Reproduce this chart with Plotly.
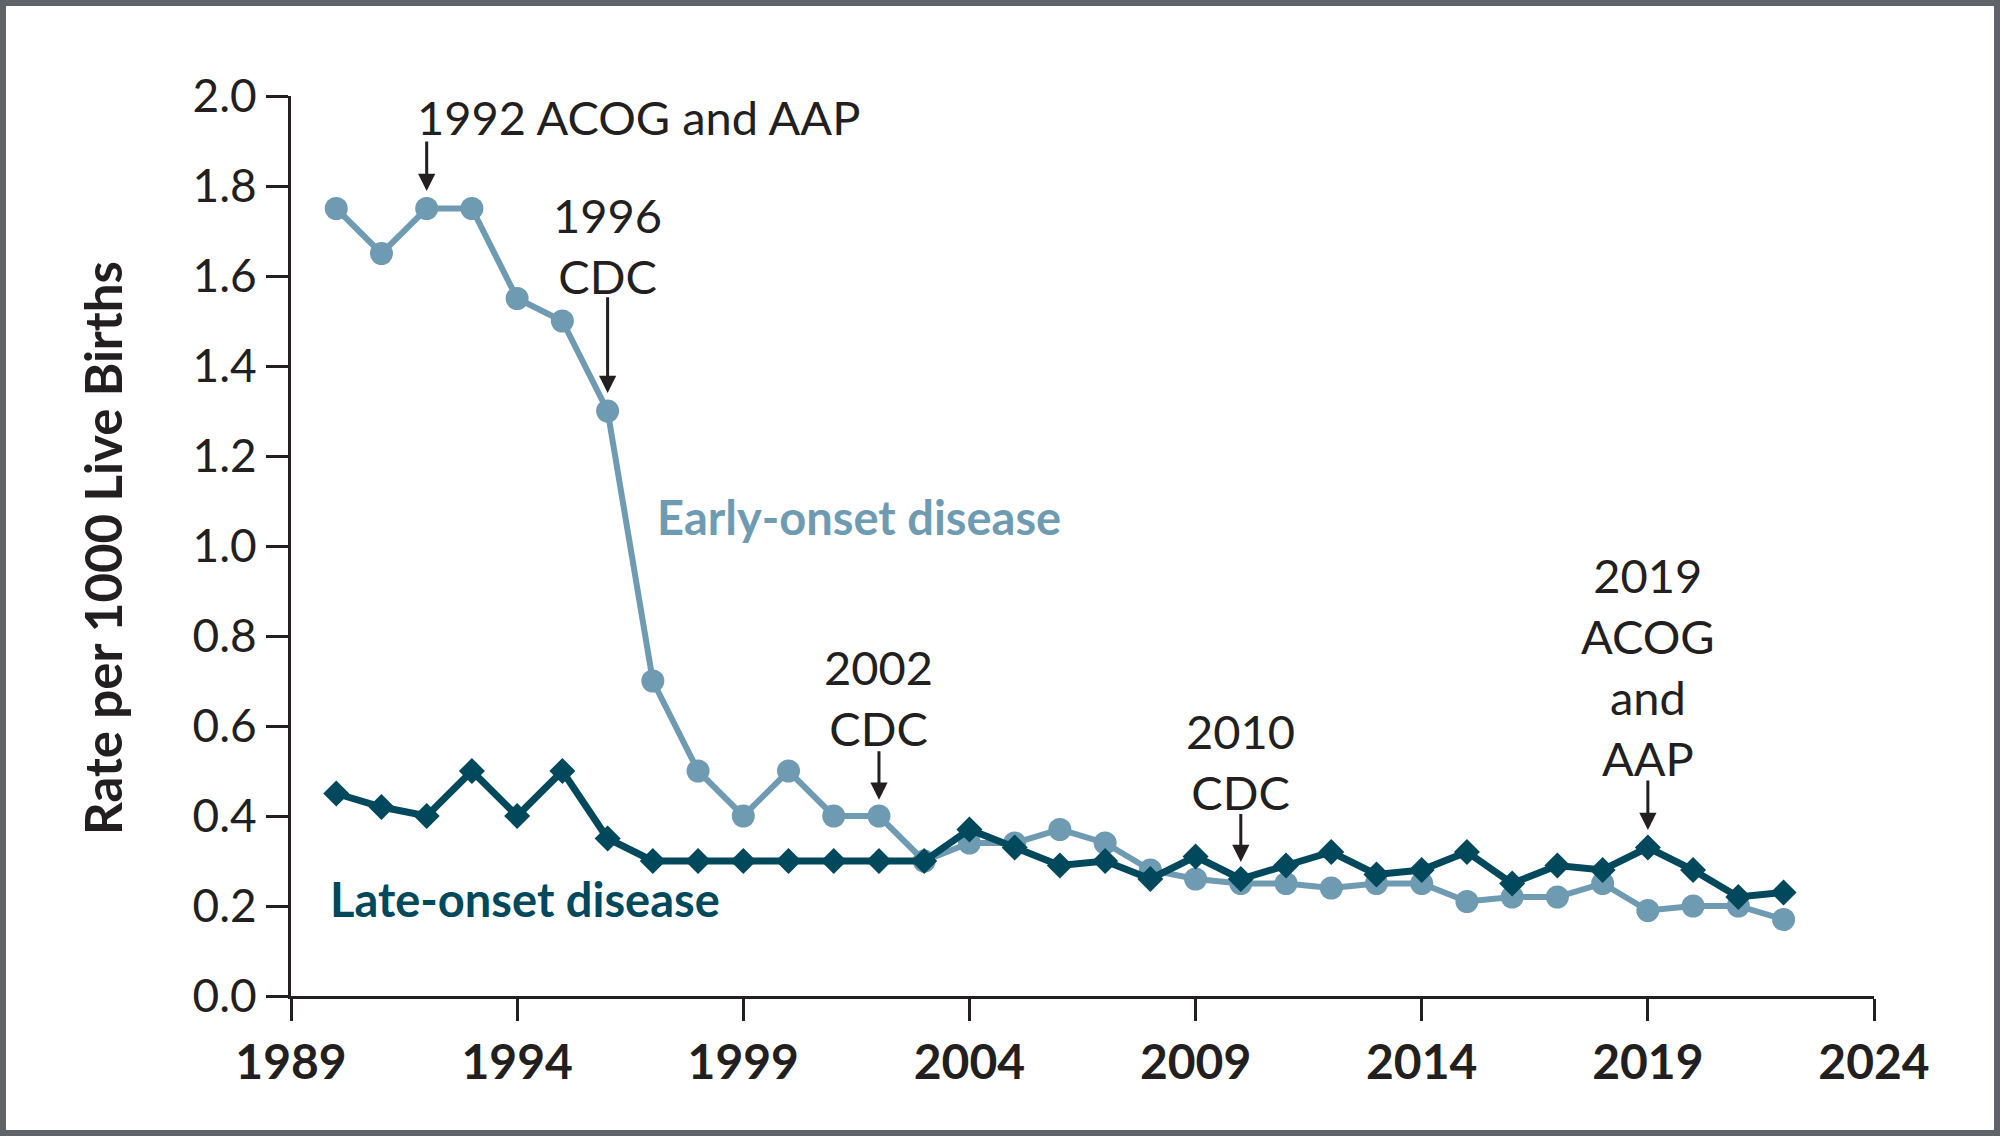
import plotly.graph_objects as go

years = list(range(1990, 2023))
early_onset = [1.75, 1.65, 1.75, 1.75, 1.55, 1.50, 1.30, 0.70, 0.50, 0.40, 0.50, 0.40, 0.40,
               0.30, 0.34, 0.34, 0.37, 0.34, 0.28, 0.26, 0.25, 0.25, 0.24, 0.25, 0.25,
               0.21, 0.22, 0.22, 0.25, 0.19, 0.20, 0.20, 0.17]
late_onset = [0.45, 0.42, 0.40, 0.50, 0.40, 0.50, 0.35, 0.30, 0.30, 0.30, 0.30, 0.30, 0.30,
              0.30, 0.37, 0.33, 0.29, 0.30, 0.26, 0.31, 0.26, 0.29, 0.32, 0.27, 0.28,
              0.32, 0.25, 0.29, 0.28, 0.33, 0.28, 0.22, 0.23]

x_ticks = [1989, 1994, 1999, 2004, 2009, 2014, 2019, 2024]
y_ticks = [0.0, 0.2, 0.4, 0.6, 0.8, 1.0, 1.2, 1.4, 1.6, 1.8, 2.0]

# guideline annotations: year, text, text center (x, y), arrow tail, arrow tip
guide_year = [1992, 1996, 2002, 2010, 2019]
guide_text = ["1992 ACOG and AAP", "1996<br>CDC", "2002<br>CDC", "2010<br>CDC",
              "2019<br>ACOG<br>and<br>AAP"]
guide_text_x = [1996.69, 1996, 2002, 2010, 2019]
guide_text_y = [1.953, 1.668, 0.664, 0.522, 0.732]
guide_tail = [1.902, 1.556, 0.547, 0.408, 0.482]
guide_tip = [1.789, 1.340, 0.436, 0.298, 0.369]

EARLY = "#6e9bb2"
LATE = "#00485b"
INK = "#231f20"
FONT = "Lato"

W, H = 2000, 1136
L, R, T, B = 291, 1874, 96, 996
PW, PH = R - L, B - T


def px(xp):
    return (xp - L) / PW


def py(yp):
    return (B - yp) / PH


fig = go.Figure()
fig.add_trace(go.Scatter(x=years, y=early_onset, mode="lines+markers",
                         line=dict(color=EARLY, width=6),
                         marker=dict(symbol="circle", size=23, color=EARLY),
                         showlegend=False))
fig.add_trace(go.Scatter(x=years, y=late_onset, mode="lines+markers",
                         line=dict(color=LATE, width=7),
                         marker=dict(symbol="diamond", size=20, color=LATE),
                         showlegend=False))

annotations = []
for yr, txt, tx, ty, tail, tip in zip(guide_year, guide_text, guide_text_x, guide_text_y,
                                       guide_tail, guide_tip):
    annotations.append(dict(x=tx, y=ty, xref="x", yref="y", text=txt, showarrow=False,
                            xanchor="center", yanchor="middle",
                            font=dict(family=FONT, size=47, color=INK)))
    annotations.append(dict(x=yr, y=tip, ax=yr, ay=tail, xref="x", yref="y",
                            axref="x", ayref="y", text="", showarrow=True,
                            arrowhead=2, arrowsize=1.15, arrowwidth=3, arrowcolor=INK))

annotations.append(dict(x=2001.55, y=1.065, xref="x", yref="y", text="<b>Early-onset disease</b>",
                        showarrow=False, xanchor="center", yanchor="middle",
                        font=dict(family=FONT, size=47, color=EARLY)))
annotations.append(dict(x=1994.18, y=0.215, xref="x", yref="y", text="<b>Late-onset disease</b>",
                        showarrow=False, xanchor="center", yanchor="middle",
                        font=dict(family=FONT, size=47, color=LATE)))
annotations.append(dict(x=px(102), y=py(548), xref="paper", yref="paper",
                        text="<b>Rate per 1000 Live Births</b>", textangle=-90,
                        showarrow=False, xanchor="center", yanchor="middle",
                        font=dict(family=FONT, size=51, color=INK)))

fig.update_layout(
    width=W, height=H,
    margin=dict(l=L, r=W - R, t=T, b=H - B, pad=0),
    paper_bgcolor="white", plot_bgcolor="white",
    annotations=annotations,
    shapes=[dict(type="rect", xref="paper", yref="paper",
                 x0=px(3), x1=px(W - 3), y0=py(H - 3), y1=py(3),
                 line=dict(color="#5f6266", width=6), layer="below")],
)
fig.update_xaxes(range=[1989, 2024], tickmode="array", tickvals=x_ticks,
                 ticktext=[f"<b>{t}</b>" for t in x_ticks],
                 showgrid=False, zeroline=False, showline=True, linecolor=INK, linewidth=3,
                 ticks="outside", ticklen=22, tickwidth=3, tickcolor=INK,
                 tickfont=dict(family=FONT, size=48, color=INK))
fig.update_yaxes(range=[0, 2.0], tickmode="array", tickvals=y_ticks,
                 ticktext=[f"{t:.1f}" for t in y_ticks],
                 showgrid=False, zeroline=False, showline=True, linecolor=INK, linewidth=3,
                 ticks="outside", ticklen=22, tickwidth=3, tickcolor=INK,
                 tickfont=dict(family=FONT, size=46, color=INK))

fig.write_html("out.html", config={"displayModeBar": False},
               post_script="document.body.style.margin='0px';")
